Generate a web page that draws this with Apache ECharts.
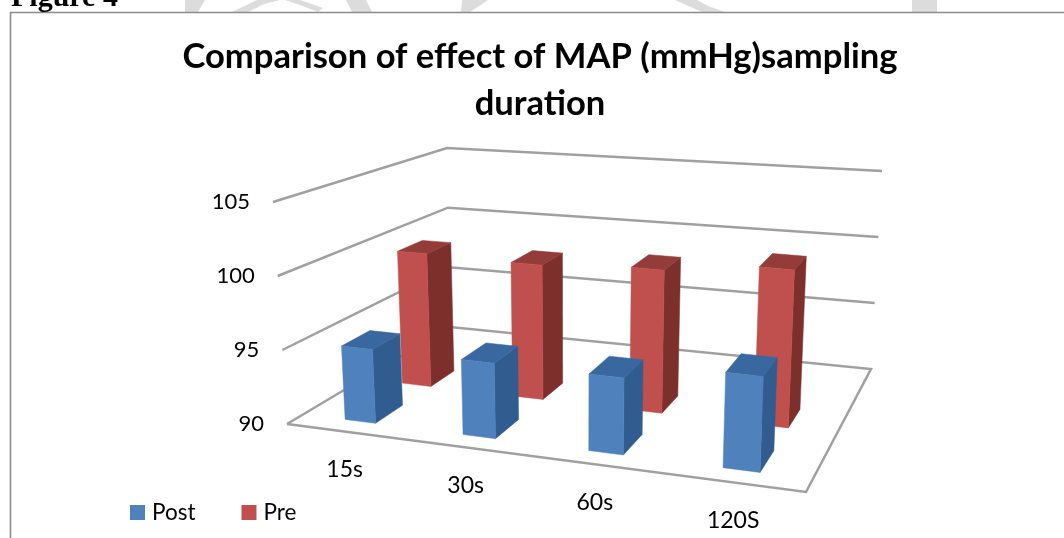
<!DOCTYPE html>
<html><head><meta charset="utf-8">
<style>html,body{margin:0;padding:0;background:#fff}#c{width:1064px;height:538px}</style>
<script src="https://cdn.jsdelivr.net/npm/echarts@6/dist/echarts.min.js"></script>
</head><body><div id="c"></div>
<script>
const categories = ['15s','30s','60s','120S'];
const postValues = [95.0, 95.0, 95.0, 96.1];
const preValues = [99.6, 99.5, 99.9, 100.7];
const yTicks = [90,95,100,105];

// Perspective box: floor corners and the screen offset from floor to top at each corner
const floorQuad = [[287,424],[806,492],[871,369],[450,327]];
const riseQuad = [[-14,-222],[10,-241],[11,-198],[-3,-179]];

function makeHomography(q){
  const [p0,p1,p2,p3]=q;
  const dx1=p1[0]-p2[0],dx2=p3[0]-p2[0],sx=p0[0]-p1[0]+p2[0]-p3[0];
  const dy1=p1[1]-p2[1],dy2=p3[1]-p2[1],sy=p0[1]-p1[1]+p2[1]-p3[1];
  const den=dx1*dy2-dx2*dy1;
  const g=(sx*dy2-dx2*sy)/den,h=(dx1*sy-sx*dy1)/den;
  const a=p1[0]-p0[0]+g*p1[0],b=p3[0]-p0[0]+h*p3[0],c=p0[0];
  const d=p1[1]-p0[1]+g*p1[1],e=p3[1]-p0[1]+h*p3[1],f=p0[1];
  return (u,v)=>{const w=g*u+h*v+1;return [(a*u+b*v+c)/w,(d*u+e*v+f)/w];};
}
const floorH=makeHomography(floorQuad);
function project(u,v,t){
  const A=floorH(u,v);
  const r=i=>(1-v)*((1-u)*riseQuad[0][i]+u*riseQuad[1][i])+v*((1-u)*riseQuad[3][i]+u*riseQuad[2][i]);
  return [A[0]+r(0)*t,A[1]+r(1)*t];
}
function norm(params,api,cat,val){
  const cs=params.coordSys, pt=api.coord([cat,val]);
  return {u:(pt[0]-cs.x)/cs.width,t:(cs.y+cs.height-pt[1])/cs.height};
}
function poly(points,fill){
  return {type:'polygon',shape:{points},style:{fill,stroke:fill,lineWidth:0.5}};
}
function barRenderer(depth,halfDepth,halfWidth,colors){
  return function(params,api){
    const n=norm(params,api,api.value(0),api.value(1));
    const base=norm(params,api,api.value(0),yTicks[0]);
    const u0=n.u-halfWidth,u1=n.u+halfWidth,v0=depth-halfDepth,v1=depth+halfDepth,t=n.t,b=base.t;
    const front=[project(u0,v0,b),project(u1,v0,b),project(u1,v0,t),project(u0,v0,t)];
    const side=[project(u1,v0,b),project(u1,v1,b),project(u1,v1,t),project(u1,v0,t)];
    const top=[project(u0,v0,t),project(u1,v0,t),project(u1,v1,t),project(u0,v1,t)];
    return {type:'group',children:[poly(side,colors.side),poly(top,colors.top),poly(front,colors.front)]};
  };
}
const lineColor='#a0a0a0';
const wm='#dcdcdc';
const option={
  animation:false,
  backgroundColor:'#fff',
  title:{show:true,text:'Comparison of effect of MAP (mmHg)sampling\nduration',left:535,top:28,textAlign:'center',
    textStyle:{fontFamily:'Lato',fontWeight:'bold',fontSize:34.6,lineHeight:47,color:'#000'}},
  legend:{left:125,top:496,data:['Post','Pre'],icon:'rect',itemWidth:15,itemHeight:15,itemGap:46,
    textStyle:{fontFamily:'Lato',fontSize:22.5,color:'#000',padding:[2,0,0,2]}},
  grid:{left:100,right:100,top:100,bottom:100},
  xAxis:{type:'category',data:categories,show:false},
  yAxis:{type:'value',min:90,max:105,interval:5,show:false},
  graphic:[
    {type:'polygon',shape:{points:[[185,0],[205,0],[198,12],[185,12]]},style:{fill:wm},silent:true},
    {type:'polygon',shape:{points:[[232,12],[248,12],[264,4],[280,0],[257,0]]},style:{fill:wm},silent:true},
    {type:'polygon',shape:{points:[[285,0],[300,0],[323,8],[318,12],[300,5]]},style:{fill:wm},silent:true},
    {type:'polygon',shape:{points:[[346,0],[366,0],[372,12],[352,12]]},style:{fill:wm},silent:true},
    {type:'polygon',shape:{points:[[462,0],[488,0],[470,12],[461,12]]},style:{fill:wm},silent:true},
    {type:'polygon',shape:{points:[[675,0],[697,0],[708,6],[725,12],[702,12]]},style:{fill:wm},silent:true},
    {type:'rect',shape:{x:912,y:0,width:25,height:12},style:{fill:wm},silent:true},
    {type:'polyline',shape:{points:[[10.5,538],[10.5,12.5],[1064,12.5]]},style:{stroke:'#8c8c8c',lineWidth:1.6,fill:null},silent:true},
    {type:'text',x:11,y:-17,style:{text:'Figure 4',font:'bold 30px "Liberation Serif"',fill:'#000'},silent:true}
  ],
  series:[
    {type:'custom',name:'walls',z:1,data:yTicks.map(v=>[0,v]),silent:true,
      renderItem(params,api){
        const val=api.value(1);
        const t=norm(params,api,0,val).t;
        const label={type:'text',style:{text:String(val),x:project(0,0,t)[0]-23,y:project(0,0,t)[1],align:'right',verticalAlign:'middle',
          font:'22px Lato',fill:'#000'}};
        const wall={type:'polyline',shape:{points:val===yTicks[0]
            ?[project(0,0,t),project(1,0,t),project(1,1,t),project(0,1,t),project(0,0,t)]
            :[project(0,0,t),project(0,1,t),project(1,1,t)]},
          style:{stroke:lineColor,lineWidth:2.5,fill:null,lineJoin:'miter'}};
        return {type:'group',children:[wall,label]};
      }},
    {type:'custom',name:'categoryLabels',z:1,data:categories.map((c,i)=>[i,yTicks[0]]),silent:true,
      renderItem(params,api){
        const i=api.value(0);
        const n=norm(params,api,i,yTicks[0]);
        const p=project(n.u,0,n.t);
        return {type:'text',style:{text:categories[i],x:p[0],y:p[1]+38,align:'center',verticalAlign:'middle',font:'23px Lato',fill:'#000'}};
      }},
    {type:'custom',name:'Pre',z:2,itemStyle:{color:'#c0504d'},data:preValues.map((v,i)=>[i,v]),
      renderItem:barRenderer(0.49,0.077,0.033,{front:'#c0504d',side:'#7d2f2c',top:'#933c3a'})},
    {type:'custom',name:'Post',z:3,itemStyle:{color:'#4f81bd'},data:postValues.map((v,i)=>[i,v]),
      renderItem:barRenderer(0.16,0.077,0.033,{front:'#4f81bd',side:'#315c8f',top:'#38689f'})}
  ]
};
echarts.init(document.getElementById('c'),null,{renderer:'canvas'}).setOption(option);
</script></body></html>
